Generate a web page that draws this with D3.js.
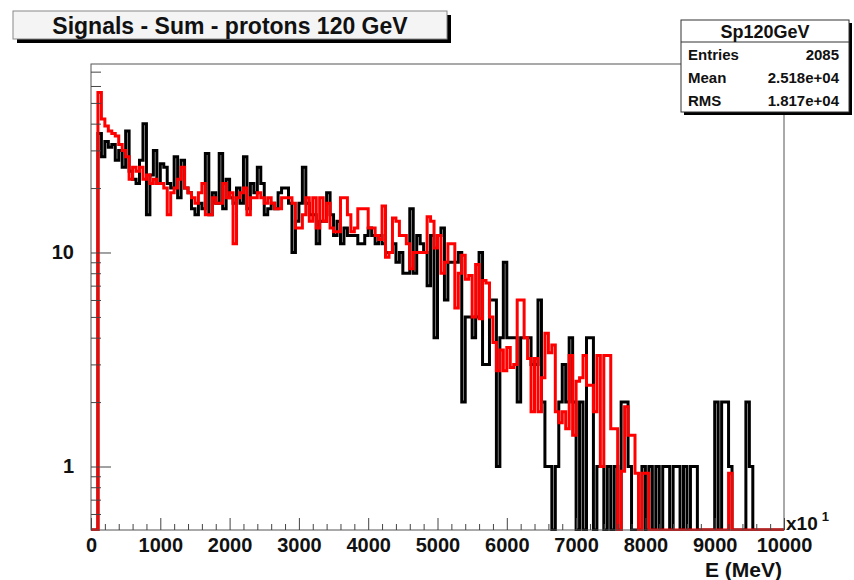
<!DOCTYPE html>
<html lang="en">
<head>
<meta charset="UTF-8">
<title>Signals - Sum - protons 120 GeV</title>
<script src="https://cdn.jsdelivr.net/npm/d3@7"></script>
<style>
  body { margin: 0; background: #fff; }
  svg { display: block; font-family: "Liberation Sans", Arial, Helvetica, sans-serif; font-weight: bold; }
  .axis .domain { display: none; }
  .axis line { stroke: #444; stroke-width: 1; }
  .axis text { fill: #111; font-size: 20px; }
  .hist { fill: none; stroke-width: 3; stroke-linejoin: miter; }
</style>
</head>
<body>
<div id="chart"></div>
<script>
  // 200 bins, 50 units each (axis in units of 10 MeV)
  const binWidth = 50
  const blackCounts = [
    0, 0, 36, 28, 33, 31, 32, 27, 30, 25,
    37, 24, 22, 21, 27, 40, 15, 23, 30, 21,
    26, 25, 21, 20, 28, 18, 27, 20, 19, 16,
    15, 17, 16, 29, 15, 19, 17, 29, 16, 22,
    18, 17, 20, 17, 28, 16, 21, 19, 25, 21,
    15, 16, 17, 16, 19, 20, 20, 17, 10, 14,
    17, 25, 17, 15, 15, 11, 14, 14, 19, 15,
    12, 14, 11, 13, 12, 12, 12, 11, 11, 12,
    13, 12, 11, 12, 11, 10, 10, 11, 9, 10,
    8, 8, 16, 8, 12, 11, 10, 7, 12, 4,
    12, 13, 6, 9, 9, 9, 10, 2, 5, 5,
    4, 5, 10, 3, 3, 6, 6, 1, 4, 9,
    4, 4, 4, 2, 4, 4, 4, 3, 3, 6,
    2, 1, 1, 0, 1, 2, 3, 2, 4, 2,
    0, 2, 0, 4, 4, 0, 1, 1, 0, 1,
    0, 1, 0, 2, 2, 1, 0, 0, 0, 1,
    0, 1, 0, 1, 0, 1, 1, 0, 1, 1,
    0, 1, 0, 1, 1, 0, 0, 0, 0, 0,
    2, 0, 2, 2, 1, 0, 0, 0, 0, 2,
    1, 0, 0, 0, 0, 0, 0, 0, 0, 0
  ]
  const redCounts = [
    0, 0, 56, 42, 39, 37, 36, 35, 32, 30,
    28, 22, 25, 24, 25, 22, 23, 21, 22, 21,
    21, 20, 15, 19, 20, 22, 25, 20, 19, 18,
    17, 19, 21, 15, 15, 18, 17, 17, 21, 18,
    19, 11, 18, 19, 20, 15, 18, 18, 19, 18,
    17, 18, 17, 16, 16, 18, 18, 18, 17, 13,
    13, 15, 18, 14, 18, 13, 18, 14, 17, 13,
    12.5, 12.5, 18, 18, 15, 12.5, 13, 16, 16, 16,
    13, 13, 12, 11.5, 16.5, 9.5, 10, 14.5, 14, 12,
    12, 11, 8.4, 10, 10, 10, 10, 14.7, 14, 10.5,
    12, 8, 9, 11, 11, 5.5, 8, 9.7, 7.5, 7.8,
    5, 8.8, 4.9, 7.4, 7.2, 5, 3.8, 2.8, 3.5, 2.8,
    3.6, 2.9, 3.0, 6, 6, 4, 3.2, 1.8, 3.2, 1.8,
    2.6, 4.2, 3.4, 3.7, 1.8, 1.6, 1.8, 1.5, 3.3, 1.4,
    2.5, 2.6, 3.3, 2.4, 2.4, 1.8, 3.3, 1.0, 3.3, 3.3,
    1.5, 1.5, 0, 0.95, 1.9, 1.4, 1.4, 0.93, 0, 0.93,
    0.93, 0, 0, 0, 0, 0, 0, 0, 0, 0,
    0, 0, 0, 0, 0, 0, 0, 0, 0, 0,
    0, 0, 0, 0, 0.93, 0, 0, 0, 0, 0,
    0, 0, 0, 0, 0, 0, 0, 0, 0, 0
  ]
  const xMajorTicks = [0, 1000, 2000, 3000, 4000, 5000, 6000, 7000, 8000, 9000, 10000]
  const yMajorTicks = [1, 10]
  const yMinorTicks = [0.6, 0.7, 0.8, 0.9, 2, 3, 4, 5, 6, 7, 8, 9, 20, 30, 40, 50, 60, 70]
  const statsLabels = ['Entries', 'Mean', 'RMS']
  const statsValues = ['2085', '2.518e+04', '1.817e+04']

  const width = 854, height = 580
  const frame = {left: 91, right: 784, top: 64, bottom: 530}
  const yMin = 0.505, yMax = 76

  const svg = d3.select('#chart').append('svg')
    .attr('width', width)
    .attr('height', height)

  const x = d3.scaleLinear().domain([0, 10000]).range([frame.left, frame.right])
  const y = d3.scaleLog().domain([yMin, yMax]).range([frame.bottom, frame.top])

  svg.append('defs').append('clipPath').attr('id', 'frameClip')
    .append('rect')
    .attr('x', frame.left).attr('y', frame.top - 1)
    .attr('width', frame.right - frame.left)
    .attr('height', frame.bottom - frame.top + 2)

  // step outline, empty bins drop to the bottom of the frame
  function stepPoints (counts) {
    const pts = []
    counts.forEach(function (c, i) {
      pts.push([i * binWidth, c])
      pts.push([(i + 1) * binWidth, c])
    })
    return pts
  }
  const line = d3.line()
    .x(d => x(d[0]))
    .y(d => y(Math.max(d[1], yMin)))

  const plot = svg.append('g').attr('clip-path', 'url(#frameClip)')
  plot.append('path').attr('class', 'hist').attr('stroke', '#000').attr('d', line(stepPoints(blackCounts)))
  plot.append('path').attr('class', 'hist').attr('stroke', '#ff0000').attr('d', line(stepPoints(redCounts)))

  // frame
  svg.append('rect')
    .attr('x', frame.left).attr('y', frame.top)
    .attr('width', frame.right - frame.left)
    .attr('height', frame.bottom - frame.top)
    .attr('fill', 'none').attr('stroke', '#555').attr('stroke-width', 1)

  // x axis
  const xMinor = d3.range(0, 10001, 200).filter(v => v % 1000 !== 0)
  svg.append('g').attr('class', 'axis')
    .attr('transform', `translate(0,${frame.bottom})`)
    .call(d3.axisBottom(x).tickValues(xMinor).tickSize(-6).tickFormat(''))
  svg.append('g').attr('class', 'axis')
    .attr('transform', `translate(0,${frame.bottom})`)
    .call(d3.axisBottom(x).tickValues(xMajorTicks).tickSize(-12).tickPadding(8).tickFormat(d3.format('d')))

  // y axis
  svg.append('g').attr('class', 'axis')
    .attr('transform', `translate(${frame.left},0)`)
    .call(d3.axisLeft(y).tickValues(yMinorTicks).tickSize(-10).tickFormat(''))
  svg.append('g').attr('class', 'axis')
    .attr('transform', `translate(${frame.left},0)`)
    .call(d3.axisLeft(y).tickValues(yMajorTicks).tickSize(-20).tickPadding(17).tickFormat(d3.format('d')))

  // x10^1 and axis title
  const mult = svg.append('text').attr('x', 786).attr('y', 530).attr('font-size', 19).attr('fill', '#111')
  mult.append('tspan').text('x10')
  mult.append('tspan').attr('dx', 4).attr('dy', -9).attr('font-size', 13).text('1')
  svg.append('text')
    .attr('x', 782).attr('y', 577)
    .attr('text-anchor', 'end')
    .attr('font-size', 21).attr('fill', '#111')
    .text('E (MeV)')

  // title box
  const tb = {x: 13, y: 11, w: 434, h: 28}
  svg.append('rect').attr('x', tb.x + 4).attr('y', tb.y + 4).attr('width', tb.w).attr('height', tb.h).attr('fill', '#000')
  svg.append('rect').attr('x', tb.x).attr('y', tb.y).attr('width', tb.w).attr('height', tb.h)
    .attr('fill', '#f4f4f4').attr('stroke', '#888').attr('stroke-width', 1)
  svg.append('text')
    .attr('x', tb.x + tb.w / 2).attr('y', tb.y + 23)
    .attr('text-anchor', 'middle').attr('font-size', 23).attr('fill', '#111')
    .text('Signals - Sum - protons 120 GeV')

  // stats box
  const sb = {x: 681, y: 20, w: 168, h: 92}
  svg.append('rect').attr('x', sb.x + 3).attr('y', sb.y + 3).attr('width', sb.w).attr('height', sb.h).attr('fill', '#000')
  svg.append('rect').attr('x', sb.x).attr('y', sb.y).attr('width', sb.w).attr('height', sb.h)
    .attr('fill', '#fff').attr('stroke', '#333').attr('stroke-width', 1)
  svg.append('line')
    .attr('x1', sb.x).attr('x2', sb.x + sb.w)
    .attr('y1', sb.y + 22).attr('y2', sb.y + 22)
    .attr('stroke', '#333')
  svg.append('text')
    .attr('x', sb.x + sb.w / 2).attr('y', sb.y + 18)
    .attr('text-anchor', 'middle').attr('font-size', 18).attr('fill', '#111')
    .text('Sp120GeV')
  statsLabels.forEach(function (lab, i) {
    const yy = sb.y + 40 + i * 23
    svg.append('text').attr('x', sb.x + 7).attr('y', yy).attr('font-size', 15).attr('fill', '#111').text(lab)
    svg.append('text').attr('x', sb.x + sb.w - 10).attr('y', yy).attr('text-anchor', 'end')
      .attr('font-size', 15).attr('fill', '#111').text(statsValues[i])
  })
</script>
</body>
</html>
